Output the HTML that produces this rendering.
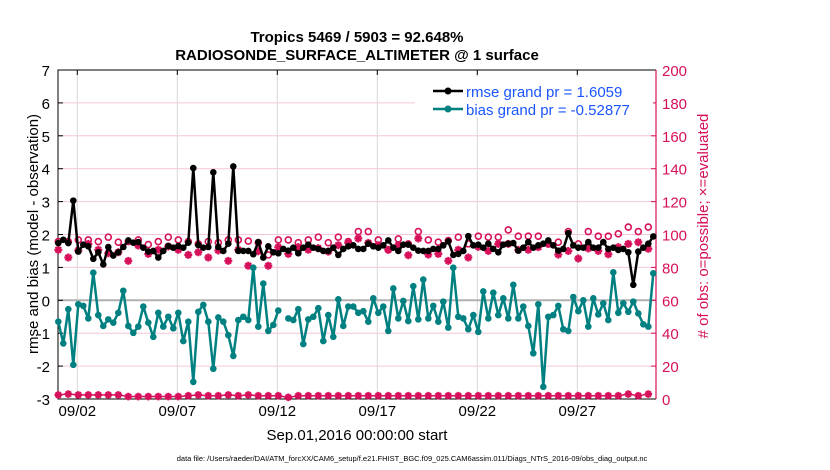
<!DOCTYPE html>
<html><head><meta charset="utf-8">
<style>
html,body{margin:0;padding:0;background:#fff;}
svg{display:block;font-family:"Liberation Sans",sans-serif;}
</style></head>
<body>
<svg id="chart" width="830" height="470" viewBox="0 0 830 470">
<rect width="830" height="470" fill="#fff"/>
<g id="grid"></g>
<g id="axes"></g>
<g id="series"></g>
<text x="357" y="42" text-anchor="middle" font-size="15" font-weight="bold">Tropics 5469 / 5903 = 92.648%</text>
<text x="357" y="60" text-anchor="middle" font-size="15" font-weight="bold">RADIOSONDE_SURFACE_ALTIMETER @ 1 surface</text>
<text transform="translate(38,234) rotate(-90)" text-anchor="middle" font-size="15">rmse and bias (model - observation)</text>
<text transform="translate(708,226) rotate(-90)" text-anchor="middle" font-size="15" fill="#d6105a"># of obs: o=possible; ×=evaluated</text>
<text x="357" y="440" text-anchor="middle" font-size="15">Sep.01,2016 00:00:00 start</text>
<text x="412" y="461" text-anchor="middle" font-size="7.5">data file: /Users/raeder/DAI/ATM_forcXX/CAM6_setup/f.e21.FHIST_BGC.f09_025.CAM6assim.011/Diags_NTrS_2016-09/obs_diag_output.nc</text>
<g>
<rect x="415" y="77" width="238" height="40" fill="#fff"/>
<g>
<line x1="433" y1="91" x2="463" y2="91" stroke="#000" stroke-width="2.5"/>
<circle cx="448" cy="91" r="3.5" fill="#000"/>
<text x="466" y="97" font-size="15" fill="#1a55ff">rmse grand pr = 1.6059</text></g>
<g>
<line x1="433" y1="109" x2="463" y2="109" stroke="#008080" stroke-width="2.5"/>
<circle cx="448" cy="109" r="3.5" fill="#008080"/>
<text x="466" y="115" font-size="15" fill="#1a55ff">bias grand pr = -0.52877</text></g>
</g>
</svg>
<script>
const rmse=[1.74,1.84,1.74,3.03,1.48,1.69,1.64,1.26,1.46,1.09,1.62,1.36,1.46,1.62,1.82,1.75,1.77,1.6,1.48,1.5,1.3,1.5,1.65,1.6,1.65,1.6,1.75,4.02,1.68,1.6,
1.62,3.89,1.62,1.5,1.72,4.07,1.5,1.5,1.5,1.4,1.77,1.3,1.64,1.46,1.43,1.56,1.51,1.6,1.43,1.6,1.69,1.6,1.56,1.5,1.5,1.6,1.38,1.56,1.64,1.67,
1.56,1.56,1.72,1.64,1.6,1.67,1.82,1.6,1.5,1.69,1.69,1.6,1.51,1.5,1.5,1.56,1.56,1.67,1.79,1.38,1.41,1.5,1.95,1.67,1.69,1.6,1.72,1.56,1.46,1.69,
1.72,1.74,1.51,1.6,1.77,1.6,1.67,1.72,1.82,1.67,1.51,1.56,2.04,1.67,1.6,1.6,1.77,1.6,1.6,1.77,1.56,1.6,1.53,1.56,1.46,0.47,1.48,1.6,1.72,1.94];
const bias=[-0.65,-1.31,-0.27,-1.96,-0.12,-0.17,-0.55,0.84,-0.45,-0.78,-0.58,-0.68,-0.38,0.29,-0.78,-0.99,-0.8,-0.19,-0.68,-1.11,-0.38,-0.8,-0.5,-0.85,-0.38,-1.24,-0.65,-2.48,-0.35,-0.14,
-0.65,-2.08,-0.52,-0.65,-1.06,-1.69,-0.6,-0.5,-0.6,0.99,-0.8,0.51,-0.93,-0.75,-0.31,null,-0.55,-0.6,-0.27,-1.33,-0.58,-0.5,-0.24,-1.24,-0.45,-1.11,0.03,-0.78,-0.19,-0.19,
-0.38,-0.33,-0.65,0.06,-0.38,-0.19,-0.93,0.36,-0.55,-0.02,-0.63,0.43,-0.58,0.63,-0.55,-0.17,-0.65,-0.04,-0.83,0.99,-0.5,-0.55,-0.88,-0.45,-0.96,0.27,-0.55,0.23,-0.45,0.06,
-0.55,0.47,-0.55,-0.19,-0.78,-1.61,-0.12,-2.63,-0.5,-0.45,-0.17,-0.88,-0.93,0.1,-0.33,0,-0.8,0.06,-0.43,-0.09,-0.6,0.85,-0.38,-0.09,-0.35,-0.04,-0.4,-0.73,-0.8,0.82];
const possible=[95.7,95.7,96.7,96.7,95.7,98.4,95.3,95.7,96.7,93.9,95.7,98.4,96.7,95.7,94.3,95.7,
95,96.7,96.7,96,95,87.6,96.7,96.7,95,96.7,98.4,95,98.4,95.7,101.8,
101.8,96.7,90.7,97.3,94.3,101.8,96.7,95.3,96.3,98.4,94.3,99,98.4,98.4,102.8,
99,99,99,94.3,95.3,101.8,94.3,101.8,99,99,100.4,104.5,101.8,104.5];
const evaluated=[90.7,86,90.3,94.3,90.7,88.6,89.2,84,93.3,88.2,90.7,92.7,90.7,87.6,89.2,86,
90.3,84,90.7,81,89.8,81,92.3,88.2,92.3,90.7,91.7,89.6,93.5,94.9,97.6,
94.9,93.5,90.7,93.5,87.4,97.6,87.8,88.2,84,90.7,86,92.5,90,94.3,94.3,
90.7,90.7,92.3,94.3,87.8,90,85.4,91.5,90,88,92.3,94.3,95.3,91.3];
const rejected=[2.5,3,2.5,2.5,2.5,2.5,2.5,1.5,1.5,1.5,1.5,1.5,1.5,2,2.5,2,
2,2.5,2,2.5,2,2,2,1,2,2,2,2,2,2,2,
2,2,2,2,2,2,2,2,2,2,2,2,2,2,2,
2,2,2,2,2,2,2,2,2,2,2,3,2,3];
const leftTicks=[-3,-2,-1,0,1,2,3,4,5,6,7];
const rightTicks=[0,20,40,60,80,100,120,140,160,180,200];
const dayTicks=[1,6,11,16,21,26];
const dayLabels=["09/02","09/07","09/12","09/17","09/22","09/27"];
const day0=0.05, dayStep=0.25, countStep=0.5;

const L=58,R=656,T=70,B=399;
const xs=d=>77.3+20*(d-1);
const yl=v=>B-(v+3)*(B-T)/10;
const yr=v=>B-v*(B-T)/200;
const NS='http://www.w3.org/2000/svg';
function mk(tag,attrs,parent){const e=document.createElementNS(NS,tag);for(const k in attrs)e.setAttribute(k,attrs[k]);parent.appendChild(e);return e;}
const grid=document.getElementById('grid'),axes=document.getElementById('axes'),ser=document.getElementById('series');
const MAG='#d6105a';

leftTicks.forEach(v=>{
  const l=mk('line',{x1:L,x2:R,y1:yl(v),y2:yl(v),stroke:'#f5c6d8','stroke-width':1},grid);
  
  
  const t=mk('text',{x:L-8,y:yl(v)+6,'text-anchor':'end','font-size':15},axes);
  t.textContent=v;
  
  
  mk('line',{x1:L,x2:L+5,y1:yl(v),y2:yl(v),stroke:'#000'},axes);
});
dayTicks.forEach((d,i)=>{
  const l=mk('line',{x1:xs(d),x2:xs(d),y1:T,y2:B,stroke:'#d8d8d8','stroke-width':1},grid);
  
  
  const t=mk('text',{x:xs(d),y:416,'text-anchor':'middle','font-size':15},axes);
  t.textContent=dayLabels[i];
  
  
  mk('line',{x1:xs(d),x2:xs(d),y1:B,y2:B-5,stroke:'#000'},axes);
  mk('line',{x1:xs(d),x2:xs(d),y1:T,y2:T+5,stroke:'#000'},axes);
});
const z=mk('line',{x1:L,x2:R,y1:yl(0),y2:yl(0),stroke:'#b0b0b0','stroke-width':2},grid);


rightTicks.forEach(v=>{
  const t=mk('text',{x:R+6,y:yr(v)+6,'font-size':15,fill:MAG},axes);
  t.textContent=v;
  
  
  mk('line',{x1:R-5,x2:R,y1:yr(v),y2:yr(v),stroke:MAG},axes);
});
const fr=mk('path',{d:`M${R},${T}H${L}V${B}H${R}`,fill:'none',stroke:'#000','stroke-width':1},axes);


const ra=mk('line',{x1:R,x2:R,y1:T,y2:B,stroke:MAG,'stroke-width':1.2},axes);



function xi(i){return xs(day0+dayStep*i);}
function xc(k){return xs(day0+countStep*k);}
function star(x,y,name,r){
  const g=mk('g',{},ser);
  
  
  mk('path',{d:`M${x-r},${y}H${x+r}M${x},${y-r}V${y+r}M${x-r*.7},${y-r*.7}L${x+r*.7},${y+r*.7}M${x-r*.7},${y+r*.7}L${x+r*.7},${y-r*.7}`,stroke:MAG,'stroke-width':2.2},g);
}
possible.forEach((v,k)=>{
  const c=mk('circle',{cx:xc(k),cy:yr(v),r:3,fill:'none',stroke:MAG,'stroke-width':1.6},ser);
  
  
});
evaluated.forEach((v,k)=>star(xc(k),yr(v),'evaluated-marker',4));
let dpb='';rejected.forEach((v,k)=>{dpb+=(k?'L':'M')+xc(k)+','+yr(v);});
const bl=mk('path',{d:dpb,fill:'none',stroke:MAG,'stroke-width':1.5},ser);


rejected.forEach((v,k)=>star(xc(k),yr(v),'rejected-marker',3.8));

function line(arr,color,name){
  let d='',pen=false;
  arr.forEach((v,i)=>{if(v===null){pen=false;return;}d+=(pen?'L':'M')+xi(i)+','+yl(v);pen=true;});
  const p=mk('path',{d:d,fill:'none',stroke:color,'stroke-width':2.5,'stroke-linejoin':'round'},ser);
  
  
  arr.forEach((v,i)=>{if(v===null)return;
    const c=mk('circle',{cx:xi(i),cy:yl(v),r:3.3,fill:color},ser);
    
    
  });
}
line(rmse,'#000','rmse');
line(bias,'#008080','bias');
</script>
</body></html>
